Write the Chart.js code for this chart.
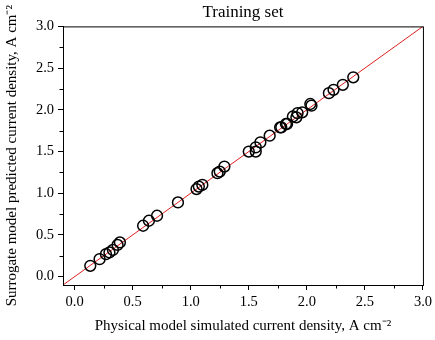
<!DOCTYPE html>
<html>
<head>
<meta charset="utf-8">
<script src="https://cdn.jsdelivr.net/npm/chart.js@4/dist/chart.umd.min.js"></script>
<style>
html,body{margin:0;padding:0;background:#fff;}
#wrap{width:435px;height:340px;}
</style>
</head>
<body>
<div id="wrap"><canvas id="c" width="435" height="340"></canvas></div>
<script>
const physical = [0.135,0.215,0.27,0.30,0.33,0.37,0.39,0.59,0.64,0.71,0.89,1.05,1.07,1.10,1.23,1.25,1.29,1.50,1.56,1.56,1.60,1.68,1.77,1.78,1.82,1.83,1.88,1.91,1.92,1.96,2.03,2.04,2.19,2.23,2.31,2.40];
const surrogate = [0.13,0.21,0.27,0.29,0.32,0.38,0.41,0.61,0.67,0.73,0.89,1.05,1.08,1.10,1.24,1.26,1.32,1.50,1.55,1.50,1.61,1.69,1.79,1.79,1.83,1.83,1.92,1.91,1.96,1.97,2.07,2.05,2.20,2.24,2.30,2.39];
const parityLine = [-0.1, 3.0];
const majorTicks = [0.0,0.5,1.0,1.5,2.0,2.5,3.0];
const minorTicks = [0.25,0.75,1.25,1.75,2.25,2.75];
const axisMin = -0.1, axisMax = 3.0;

const FONT = "'Liberation Serif', 'Times New Roman', serif";

const framePlugin = {
  id: 'frame',
  afterDraw(chart) {
    const {ctx, chartArea: a, scales} = chart;
    ctx.save();
    ctx.strokeStyle = '#000';
    ctx.lineWidth = 1;
    ctx.strokeRect(a.left + 0.5, a.top + 0.5, a.right - a.left, a.bottom - a.top);
    ctx.beginPath();
    minorTicks.forEach(v => {
      const x = Math.round(scales.x.getPixelForValue(v)) + 0.5;
      ctx.moveTo(x, a.bottom); ctx.lineTo(x, a.bottom + 3.5);
      const y = Math.round(scales.y.getPixelForValue(v)) + 0.5;
      ctx.moveTo(a.left, y); ctx.lineTo(a.left - 3.5, y);
    });
    ctx.stroke();
    ctx.restore();
  }
};

new Chart(document.getElementById('c'), {
  type: 'scatter',
  data: {
    datasets: [
      {
        type: 'line',
        data: parityLine.map(v => ({x: v, y: v})),
        borderColor: '#e02020',
        borderWidth: 1,
        pointRadius: 0,
        fill: false,
        order: 2
      },
      {
        data: physical.map((v, i) => ({x: v, y: surrogate[i]})),
        pointStyle: 'circle',
        pointRadius: 5.4,
        pointBorderWidth: 1.5,
        borderColor: '#000',
        backgroundColor: 'rgba(0,0,0,0)',
        order: 1
      }
    ]
  },
  options: {
    responsive: false,
    animation: false,
    devicePixelRatio: 1,
    layout: {padding: {left: 0, right: 11, top: 0, bottom: 0}},
    plugins: {
      legend: {display: false},
      tooltip: {enabled: false},
      title: {
        display: true,
        text: 'Training set',
        fullSize: false,
        color: '#000',
        font: {family: FONT, size: 17, weight: 'normal', lineHeight: 1.2},
        padding: {top: 2, bottom: 4}
      }
    },
    scales: {
      x: {
        type: 'linear',
        min: axisMin, max: axisMax,
        afterBuildTicks: s => { s.ticks = majorTicks.map(v => ({value: v})); },
        afterFit: s => { s.height = 55; },
        grid: {drawOnChartArea: false, drawTicks: true, tickLength: 5, color: '#000', tickColor: '#000'},
        border: {display: true, color: '#000'},
        ticks: {
          color: '#000', padding: 3,
          font: {family: FONT, size: 14.5},
          callback: v => Number(v).toFixed(1)
        },
        title: {
          display: true,
          text: 'Physical model simulated current density, A cm⁻²',
          color: '#000',
          font: {family: FONT, size: 15},
          padding: {top: 0, bottom: 5}
        }
      },
      y: {
        type: 'linear',
        min: axisMin, max: axisMax,
        afterBuildTicks: s => { s.ticks = majorTicks.map(v => ({value: v})); },
        afterFit: s => { s.width = 63; },
        grid: {drawOnChartArea: false, drawTicks: true, tickLength: 5, color: '#000', tickColor: '#000'},
        border: {display: true, color: '#000'},
        ticks: {
          color: '#000', padding: 4,
          font: {family: FONT, size: 14.5},
          callback: v => Number(v).toFixed(1)
        },
        title: {
          display: true,
          text: 'Surrogate model predicted current density, A cm⁻²',
          color: '#000',
          font: {family: FONT, size: 15},
          padding: {top: 3, bottom: 0}
        }
      }
    }
  },
  plugins: [framePlugin]
});
</script>
</body>
</html>
